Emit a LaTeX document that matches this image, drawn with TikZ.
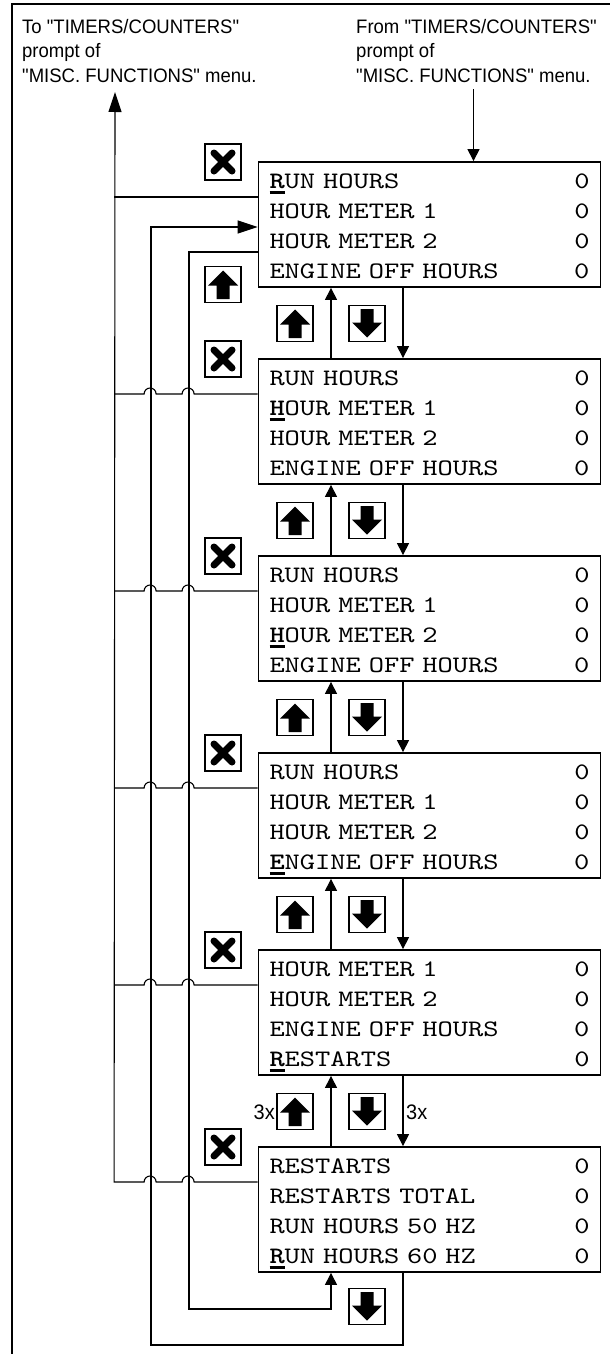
\documentclass[tikz,border=0pt]{standalone}
\usepackage{fontspec}
\usetikzlibrary{arrows.meta}
\newfontfamily\lcdfamily{lmmono10-regular}[Extension=.otf, BoldFont=lmmonolt10-bold, FakeStretch=1.23]
\newfontfamily\notefamily{Liberation Sans}[FakeStretch=0.95]
\newcommand{\lcd}{\lcdfamily\fontsize{23.6}{30}\selectfont}
\newcommand{\note}{\notefamily\fontsize{19.5}{24.5}\selectfont}
\newcommand{\csr}[1]{\leavevmode\rlap{\rule[-5.5pt]{15pt}{2.5pt}}\textbf{#1}}

\begin{document}
\begin{tikzpicture}[x=1pt,y=1pt]
  \tikzstyle{lcdbox}=[draw, line width=1.8pt, font=\lcd, text width=320pt, align=left,
    inner xsep=11pt, inner ysep=9pt, text height=17pt, text depth=90pt]
  \tikzstyle{keybox}=[draw, line width=1.3pt, minimum size=36pt, inner sep=0pt]
  \tikzstyle{upkey}=[keybox, path picture={\fill[shift={(path picture bounding box.center)}]
    (0,14) -- (15,-1) -- (6.5,-1) -- (6.5,-14.5) -- (-6.5,-14.5) -- (-6.5,-1) -- (-15,-1) -- cycle;}]
  \tikzstyle{downkey}=[keybox, path picture={\fill[shift={(path picture bounding box.center)}]
    (0,-14) -- (15,1) -- (6.5,1) -- (6.5,14.5) -- (-6.5,14.5) -- (-6.5,1) -- (-15,1) -- cycle;}]
  \tikzstyle{esckey}=[keybox, path picture={\draw[line width=7pt, line cap=round, shift={(path picture bounding box.center)}]
    (-9,-9) -- (9,9) (-9,9) -- (9,-9);}]
  \tikzstyle{wire}=[line width=1.1pt]
  \tikzstyle{arr}=[-{Triangle[length=12pt,width=12pt]}]
  \tikzstyle{longarr}=[-{Triangle[length=20pt,width=13pt]}]

  \useasboundingbox (0,0) rectangle (610,-1354);
  \draw[line width=2pt] (11.5,-1354) -- (11.5,-4) -- (610,-4);

  % notes at the top
  \node[font=\note, align=left, anchor=north west, inner sep=0pt] (tolabel) at (22,-19)
    {To "TIMERS/COUNTERS"\\prompt of\\"MISC. FUNCTIONS" menu.};
  \node[font=\note, align=left, anchor=north west, inner sep=0pt] (fromlabel) at (356,-19)
    {From "TIMERS/COUNTERS"\\prompt of\\"MISC. FUNCTIONS" menu.};

  % screens
  \node[lcdbox] (s1) at (429.5,-224.5) {\csr{R}UN HOURS\hfill 0\\HOUR METER 1\hfill 0\\HOUR METER 2\hfill 0\\ENGINE OFF HOURS\hfill 0};
  \node[lcdbox] (s2) at (429.5,-421.5) {RUN HOURS\hfill 0\\\csr{H}OUR METER 1\hfill 0\\HOUR METER 2\hfill 0\\ENGINE OFF HOURS\hfill 0};
  \node[lcdbox] (s3) at (429.5,-618.5) {RUN HOURS\hfill 0\\HOUR METER 1\hfill 0\\\csr{H}OUR METER 2\hfill 0\\ENGINE OFF HOURS\hfill 0};
  \node[lcdbox] (s4) at (429.5,-815.5) {RUN HOURS\hfill 0\\HOUR METER 1\hfill 0\\HOUR METER 2\hfill 0\\\csr{E}NGINE OFF HOURS\hfill 0};
  \node[lcdbox] (s5) at (429.5,-1012.5) {HOUR METER 1\hfill 0\\HOUR METER 2\hfill 0\\ENGINE OFF HOURS\hfill 0\\\csr{R}ESTARTS\hfill 0};
  \node[lcdbox] (s6) at (429.5,-1209.5) {RESTARTS\hfill 0\\RESTARTS TOTAL\hfill 0\\RUN HOURS 50 HZ\hfill 0\\\csr{R}UN HOURS 60 HZ\hfill 0};

  % keys
  \node[esckey] (esc1) at (223,-162) {};
  \node[esckey] (esc2) at (223,-359) {};
  \node[esckey] (esc3) at (223,-556) {};
  \node[esckey] (esc4) at (223,-753) {};
  \node[esckey] (esc5) at (223,-950) {};
  \node[esckey] (esc6) at (223,-1147) {};
  \node[upkey] (up0) at (223,-284.5) {};
  \node[upkey] (up1) at (295,-323.5) {};
  \node[upkey] (up2) at (295,-520.5) {};
  \node[upkey] (up3) at (295,-717.5) {};
  \node[upkey] (up4) at (295,-914.5) {};
  \node[upkey] (up5) at (295,-1111.5) {};
  \node[downkey] (dn1) at (367,-323.5) {};
  \node[downkey] (dn2) at (367,-520.5) {};
  \node[downkey] (dn3) at (367,-717.5) {};
  \node[downkey] (dn4) at (367,-914.5) {};
  \node[downkey] (dn5) at (367,-1111.5) {};
  \node[downkey] (dn6) at (367,-1306.5) {};
  \node[font=\notefamily\fontsize{21}{24}\selectfont, anchor=east, inner sep=0pt] (times3up) at (275,-1112) {3x};
  \node[font=\notefamily\fontsize{21}{24}\selectfont, anchor=west, inner sep=0pt] (times3dn) at (406,-1112) {3x};

  \coordinate (fromtc) at (473.5,-89);
  \coordinate (totc) at (115,-92);
  \coordinate (wrapup) at (189,-1309);
  \coordinate (wrapdown) at (151,-1345);

  % in and out
  \draw[wire,arr] (fromtc) -- (fromtc |- s1.north);
  \draw[wire] ([yshift=27.5pt]s1.west) -- ++(-143.5,0);
  \draw[wire] ([yshift=27.5pt]s2.west) -- ++(-63.5,0) arc (0:180:6) -- ++(-26,0) arc (0:180:6) -- ++(-30,0);
  \draw[wire] ([yshift=27.5pt]s3.west) -- ++(-63.5,0) arc (0:180:6) -- ++(-26,0) arc (0:180:6) -- ++(-30,0);
  \draw[wire] ([yshift=27.5pt]s4.west) -- ++(-63.5,0) arc (0:180:6) -- ++(-26,0) arc (0:180:6) -- ++(-30,0);
  \draw[wire] ([yshift=27.5pt]s5.west) -- ++(-63.5,0) arc (0:180:6) -- ++(-26,0) arc (0:180:6) -- ++(-30,0);
  \draw[wire,longarr] ([yshift=27.5pt]s6.west) -- ++(-63.5,0) arc (0:180:6) -- ++(-26,0) arc (0:180:6) -- ++(-30,0) -- (totc);

  % up and down between screens
  \draw[wire,arr] ([xshift=-98.5pt]s2.north) -- ([xshift=-98.5pt]s1.south);
  \draw[wire,arr] ([xshift=-98.5pt]s3.north) -- ([xshift=-98.5pt]s2.south);
  \draw[wire,arr] ([xshift=-98.5pt]s4.north) -- ([xshift=-98.5pt]s3.south);
  \draw[wire,arr] ([xshift=-98.5pt]s5.north) -- ([xshift=-98.5pt]s4.south);
  \draw[wire,arr] ([xshift=-98.5pt]s6.north) -- ([xshift=-98.5pt]s5.south);
  \draw[wire,arr] ([xshift=-26.5pt]s1.south) -- ([xshift=-26.5pt]s2.north);
  \draw[wire,arr] ([xshift=-26.5pt]s2.south) -- ([xshift=-26.5pt]s3.north);
  \draw[wire,arr] ([xshift=-26.5pt]s3.south) -- ([xshift=-26.5pt]s4.north);
  \draw[wire,arr] ([xshift=-26.5pt]s4.south) -- ([xshift=-26.5pt]s5.north);
  \draw[wire,arr] ([xshift=-26.5pt]s5.south) -- ([xshift=-26.5pt]s6.north);

  % wrap round
  \draw[wire,arr] ([yshift=-27.5pt]s1.west) -| (wrapup) -| ([xshift=-98.5pt]s6.south);
  \draw[wire,longarr] ([xshift=-26.5pt]s6.south) |- (wrapdown) |- ([yshift=-2.5pt]s1.west);
\end{tikzpicture}
\end{document}
